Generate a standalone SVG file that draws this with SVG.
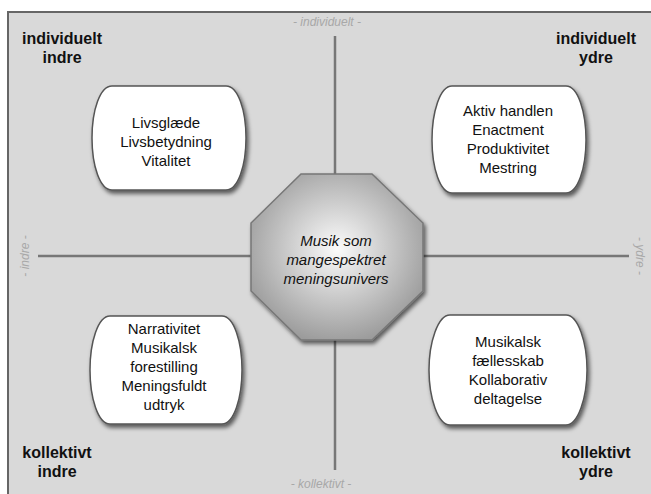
<svg xmlns="http://www.w3.org/2000/svg" width="651" height="494" viewBox="0 0 651 494">
<defs>
<style>
.lbl{font-family:"Liberation Sans",Arial,sans-serif;font-size:16px;font-weight:bold;fill:#111;text-anchor:middle}
.ax{font-family:"Liberation Sans",Arial,sans-serif;font-size:12px;font-style:italic;fill:#a8a8a8;text-anchor:middle}
.bt{font-family:"Liberation Sans",Arial,sans-serif;font-size:15px;fill:#111;text-anchor:middle}
.ct{font-family:"Liberation Sans",Arial,sans-serif;font-size:15px;font-style:italic;fill:#111;text-anchor:middle}
.box{fill:#fff;stroke:#555;stroke-width:1.5;filter:url(#sh)}
.axis{stroke:#777;stroke-width:2.5;fill:none}
</style>
<filter id="sh" x="-20%" y="-20%" width="140%" height="140%">
<feDropShadow dx="2" dy="3" stdDeviation="2" flood-color="#000" flood-opacity="0.6"/>
</filter>
<radialGradient id="og" cx="50%" cy="45%" r="58%">
<stop offset="0" stop-color="#fbfbfb"/>
<stop offset="1" stop-color="#9a9a9a"/>
</radialGradient>
</defs>
<rect x="8" y="12" width="680" height="520" fill="#d9d9d9" stroke="#666" stroke-width="2"/>
<g id="connectors">
<line class="axis" x1="335" y1="36" x2="335" y2="470"/>
<line class="axis" x1="38" y1="256" x2="629" y2="256"/>
</g>
<g id="axis-labels">
<text class="ax" x="327" y="26">- individuelt -</text>
<text class="ax" x="321" y="488">- kollektivt -</text>
<text class="ax" transform="translate(29,256) rotate(-90)">- indre -</text>
<text class="ax" transform="translate(636,256) rotate(90)">- ydre -</text>
</g>
<g id="corner-labels">
<text class="lbl" x="62" y="44">individuelt</text>
<text class="lbl" x="62" y="63">indre</text>
<text class="lbl" x="596" y="44">individuelt</text>
<text class="lbl" x="596" y="63">ydre</text>
<text class="lbl" x="57" y="458">kollektivt</text>
<text class="lbl" x="57" y="477">indre</text>
<text class="lbl" x="596" y="458">kollektivt</text>
<text class="lbl" x="596" y="477">ydre</text>
</g>
<g id="center">
<polygon points="301,174 372,174 423,223 423,291 372,340 301,340 251,291 251,223" fill="url(#og)" stroke="#777" stroke-width="1.5" filter="url(#sh)"/>
<text class="ct" x="336" y="246">Musik som</text>
<text class="ct" x="336" y="265">mangespektret</text>
<text class="ct" x="336" y="284">meningsunivers</text>
</g>
<g id="node-tl">
<path class="box" d="M112,86 H226 C238,86 246,110 246,138 C246,166 238,190 226,190 H112 C100,190 92,166 92,138 C92,110 100,86 112,86 Z"/>
<text class="bt" x="166" y="128">Livsglæde</text>
<text class="bt" x="166" y="147">Livsbetydning</text>
<text class="bt" x="166" y="166">Vitalitet</text>
</g>
<g id="node-tr">
<path class="box" d="M452,86 H566 C578,86 586,112 586,140 C586,168 578,193 566,193 H452 C440,193 432,168 432,140 C432,112 440,86 452,86 Z"/>
<text class="bt" x="508" y="116">Aktiv handlen</text>
<text class="bt" x="508" y="135">Enactment</text>
<text class="bt" x="508" y="154">Produktivitet</text>
<text class="bt" x="508" y="173">Mestring</text>
</g>
<g id="node-bl">
<path class="box" d="M110,316 H222 C234,316 242,342 242,370 C242,398 234,424 222,424 H110 C98,424 90,398 90,370 C90,342 98,316 110,316 Z"/>
<text class="bt" x="164" y="334">Narrativitet</text>
<text class="bt" x="164" y="353">Musikalsk</text>
<text class="bt" x="164" y="372">forestilling</text>
<text class="bt" x="164" y="391">Meningsfuldt</text>
<text class="bt" x="164" y="410">udtryk</text>
</g>
<g id="node-br">
<path class="box" d="M450,315 H566 C578,315 587,342 587,370 C587,398 578,425 566,425 H450 C438,425 429,398 429,370 C429,342 438,315 450,315 Z"/>
<text class="bt" x="508" y="347">Musikalsk</text>
<text class="bt" x="508" y="366">fællesskab</text>
<text class="bt" x="508" y="385">Kollaborativ</text>
<text class="bt" x="508" y="404">deltagelse</text>
</g>
</svg>
